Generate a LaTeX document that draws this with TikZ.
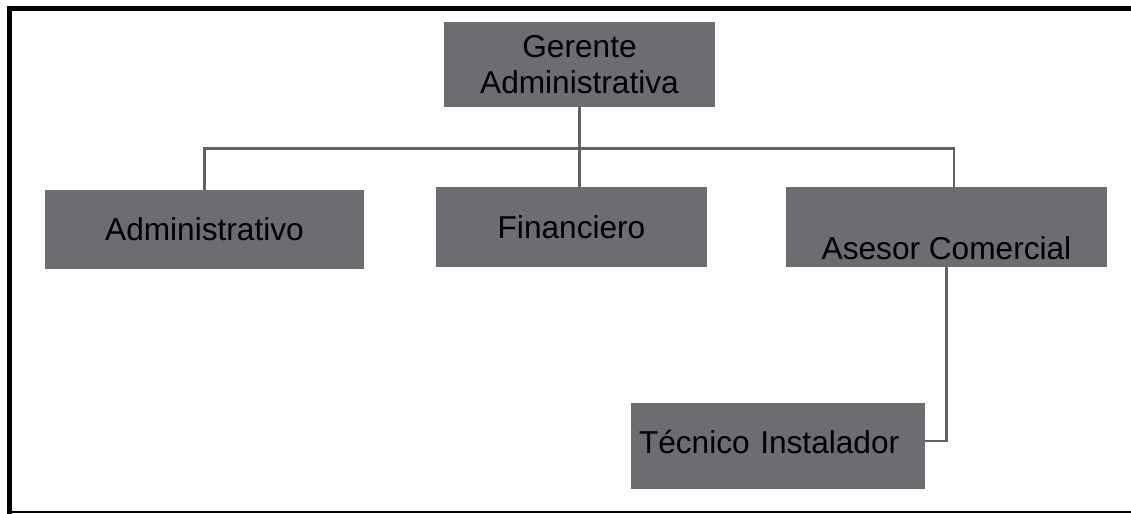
\documentclass[tikz,border=0pt]{standalone}
\usepackage{fontspec}
\setmainfont{Liberation Sans}
\usepackage{tikz}
\usetikzlibrary{positioning,calc}
\definecolor{cajagris}{RGB}{109,108,113}
\definecolor{lineagris}{RGB}{98,98,98}

\begin{document}
\begin{tikzpicture}[
    caja/.style={rectangle, fill=cajagris, inner sep=0pt, font=\fontsize{18}{20.5}\selectfont},
    enlace/.style={draw=lineagris, line width=1.4pt}
]
    \useasboundingbox (0,0) rectangle (22.62,-10.28);

    % Marco
    \draw[line width=0.1cm] (22.62,-0.18) -- (0.19,-0.18) -- (0.19,-10.28);
    \draw[line width=0.6pt] (0.19,-10.24) -- (22.62,-10.24);

    % Gerencia
    \node[caja, minimum width=5.42cm, minimum height=1.7cm, align=center] (gerente) at (11.59, -1.29)
        {Gerente\\Administrativa};

    % Areas
    \node[caja, minimum width=6.38cm, minimum height=1.58cm] (admin) at (4.09, -4.59) {Administrativo};
    \node[caja, minimum width=5.42cm, minimum height=1.6cm] (financiero) at (11.43, -4.54) {Financiero};
    \node[caja, minimum width=6.42cm, text height=1.46cm, text depth=0.14cm] (asesor) at (18.93, -4.54)
        {Asesor Comercial};

    % Tecnico
    \node[caja, text width=5.56cm, align=left, inner xsep=0.16cm, text height=1.0cm, text depth=0.72cm] (tecnico) at (15.56, -8.92)
        {Técnico Instalador};

    % Conectores
    \draw[enlace] (gerente.south) -- ++(0,-0.82) coordinate (bus);
    \draw[enlace] (admin.north) |- (bus) -| ($(asesor.north)+(0.15,0)$);
    \draw[enlace] (bus) -- (bus |- financiero.north);
    \draw[enlace] (asesor.south) |- ($(tecnico.east)+(0,0.1)$);
\end{tikzpicture}
\end{document}
